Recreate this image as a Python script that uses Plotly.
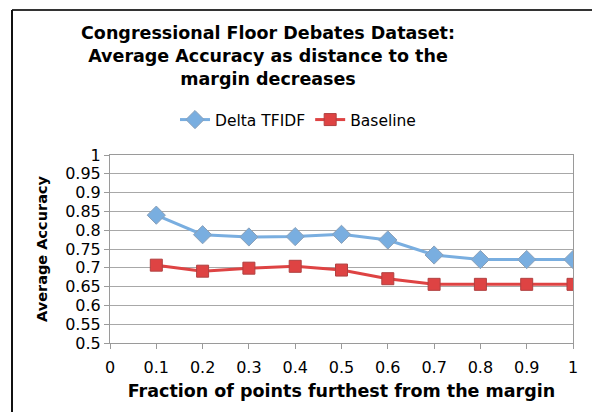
import plotly.graph_objects as go

fractions = [0.1, 0.2, 0.3, 0.4, 0.5, 0.6, 0.7, 0.8, 0.9, 1.0]
delta_tfidf = [0.840, 0.788, 0.782, 0.783, 0.789, 0.774, 0.734, 0.722, 0.722, 0.722]
baseline = [0.707, 0.691, 0.699, 0.704, 0.694, 0.671, 0.656, 0.656, 0.656, 0.656]
x_ticks = [0, 0.1, 0.2, 0.3, 0.4, 0.5, 0.6, 0.7, 0.8, 0.9, 1]
x_ticklabels = ["0", "0.1", "0.2", "0.3", "0.4", "0.5", "0.6", "0.7", "0.8", "0.9", "1"]
y_ticks = [0.5, 0.55, 0.6, 0.65, 0.7, 0.75, 0.8, 0.85, 0.9, 0.95, 1]
y_ticklabels = ["0.5", "0.55", "0.6", "0.65", "0.7", "0.75", "0.8", "0.85", "0.9", "0.95", "1"]

FONT = "DejaVu Sans"
W, H = 600, 412
OFF = 8  # page body margin offset
# desired page-pixel plot box: x 110..573, y 155..343
L = 110 - OFF
T = 155 - OFF
pw, ph = 463, 188
R = W - L - pw
B = H - T - ph


def px(xpage):
    return (xpage - OFF - L) / pw


def py(ypage):
    return (T + ph - (ypage - OFF)) / ph


fig = go.Figure()
fig.add_trace(go.Scatter(
    x=fractions, y=baseline, name="Baseline", mode="lines+markers",
    line=dict(color="#de4343", width=3),
    marker=dict(symbol="square", size=12, color="#de4343",
                line=dict(color="#b04040", width=1)),
    legendrank=2,
))
fig.add_trace(go.Scatter(
    x=fractions, y=delta_tfidf, name="Delta TFIDF", mode="lines+markers",
    line=dict(color="#79aee0", width=3),
    marker=dict(symbol="diamond", size=14, color="#79aee0",
                line=dict(color="#8aa0b8", width=1)),
    legendrank=1,
))

fig.update_layout(
    width=W, height=H,
    margin=dict(l=L, r=R, t=T, b=B, autoexpand=False),
    paper_bgcolor="white", plot_bgcolor="white",
    font=dict(family=FONT, color="black", size=16),
    title=dict(
        text="<b>Congressional Floor Debates Dataset:<br>Average Accuracy as distance to the<br>margin decreases</b>",
        x=(268 - OFF) / W, xref="container", xanchor="center",
        y=1 - 31 / H, yanchor="top",
        font=dict(family=FONT, size=17.5, color="black"),
    ),
    legend=dict(
        orientation="h", x=px(298), xanchor="center", xref="paper",
        y=py(120), yanchor="middle", font=dict(family=FONT, size=15.5),
        bgcolor="rgba(0,0,0,0)", tracegroupgap=0,
    ),
    showlegend=True,
)

fig.update_xaxes(
    range=[0, 1], tickvals=x_ticks, ticktext=x_ticklabels,
    showgrid=False, zeroline=False,
    showline=True, linecolor="#9a9a9a", linewidth=1, mirror=True,
    ticks="outside", ticklen=5, tickcolor="#9a9a9a",
    tickfont=dict(family=FONT, size=16), ticklabelstandoff=5,
    title=dict(text="<b>Fraction of points furthest from the margin</b>",
               font=dict(family=FONT, size=17.5), standoff=8),
)
fig.update_yaxes(
    range=[0.5, 1], tickvals=y_ticks, ticktext=y_ticklabels,
    showgrid=True, gridcolor="#a8a8a8", gridwidth=1, zeroline=False,
    showline=True, linecolor="#9a9a9a", linewidth=1, mirror=True,
    ticks="outside", ticklen=5, tickcolor="#9a9a9a",
    tickfont=dict(family=FONT, size=16),
    title=dict(text="<b>Average Accuracy</b>",
               font=dict(family=FONT, size=14.5), standoff=14),
)

# outer chart border (left and top edges)
fig.add_shape(type="line", xref="paper", yref="paper",
              x0=px(12), x1=px(608), y0=py(10), y1=py(10),
              line=dict(color="#333333", width=2))
fig.add_shape(type="line", xref="paper", yref="paper",
              x0=px(12), x1=px(12), y0=py(10), y1=py(420),
              line=dict(color="#111111", width=2))

fig.write_html("out.html")
